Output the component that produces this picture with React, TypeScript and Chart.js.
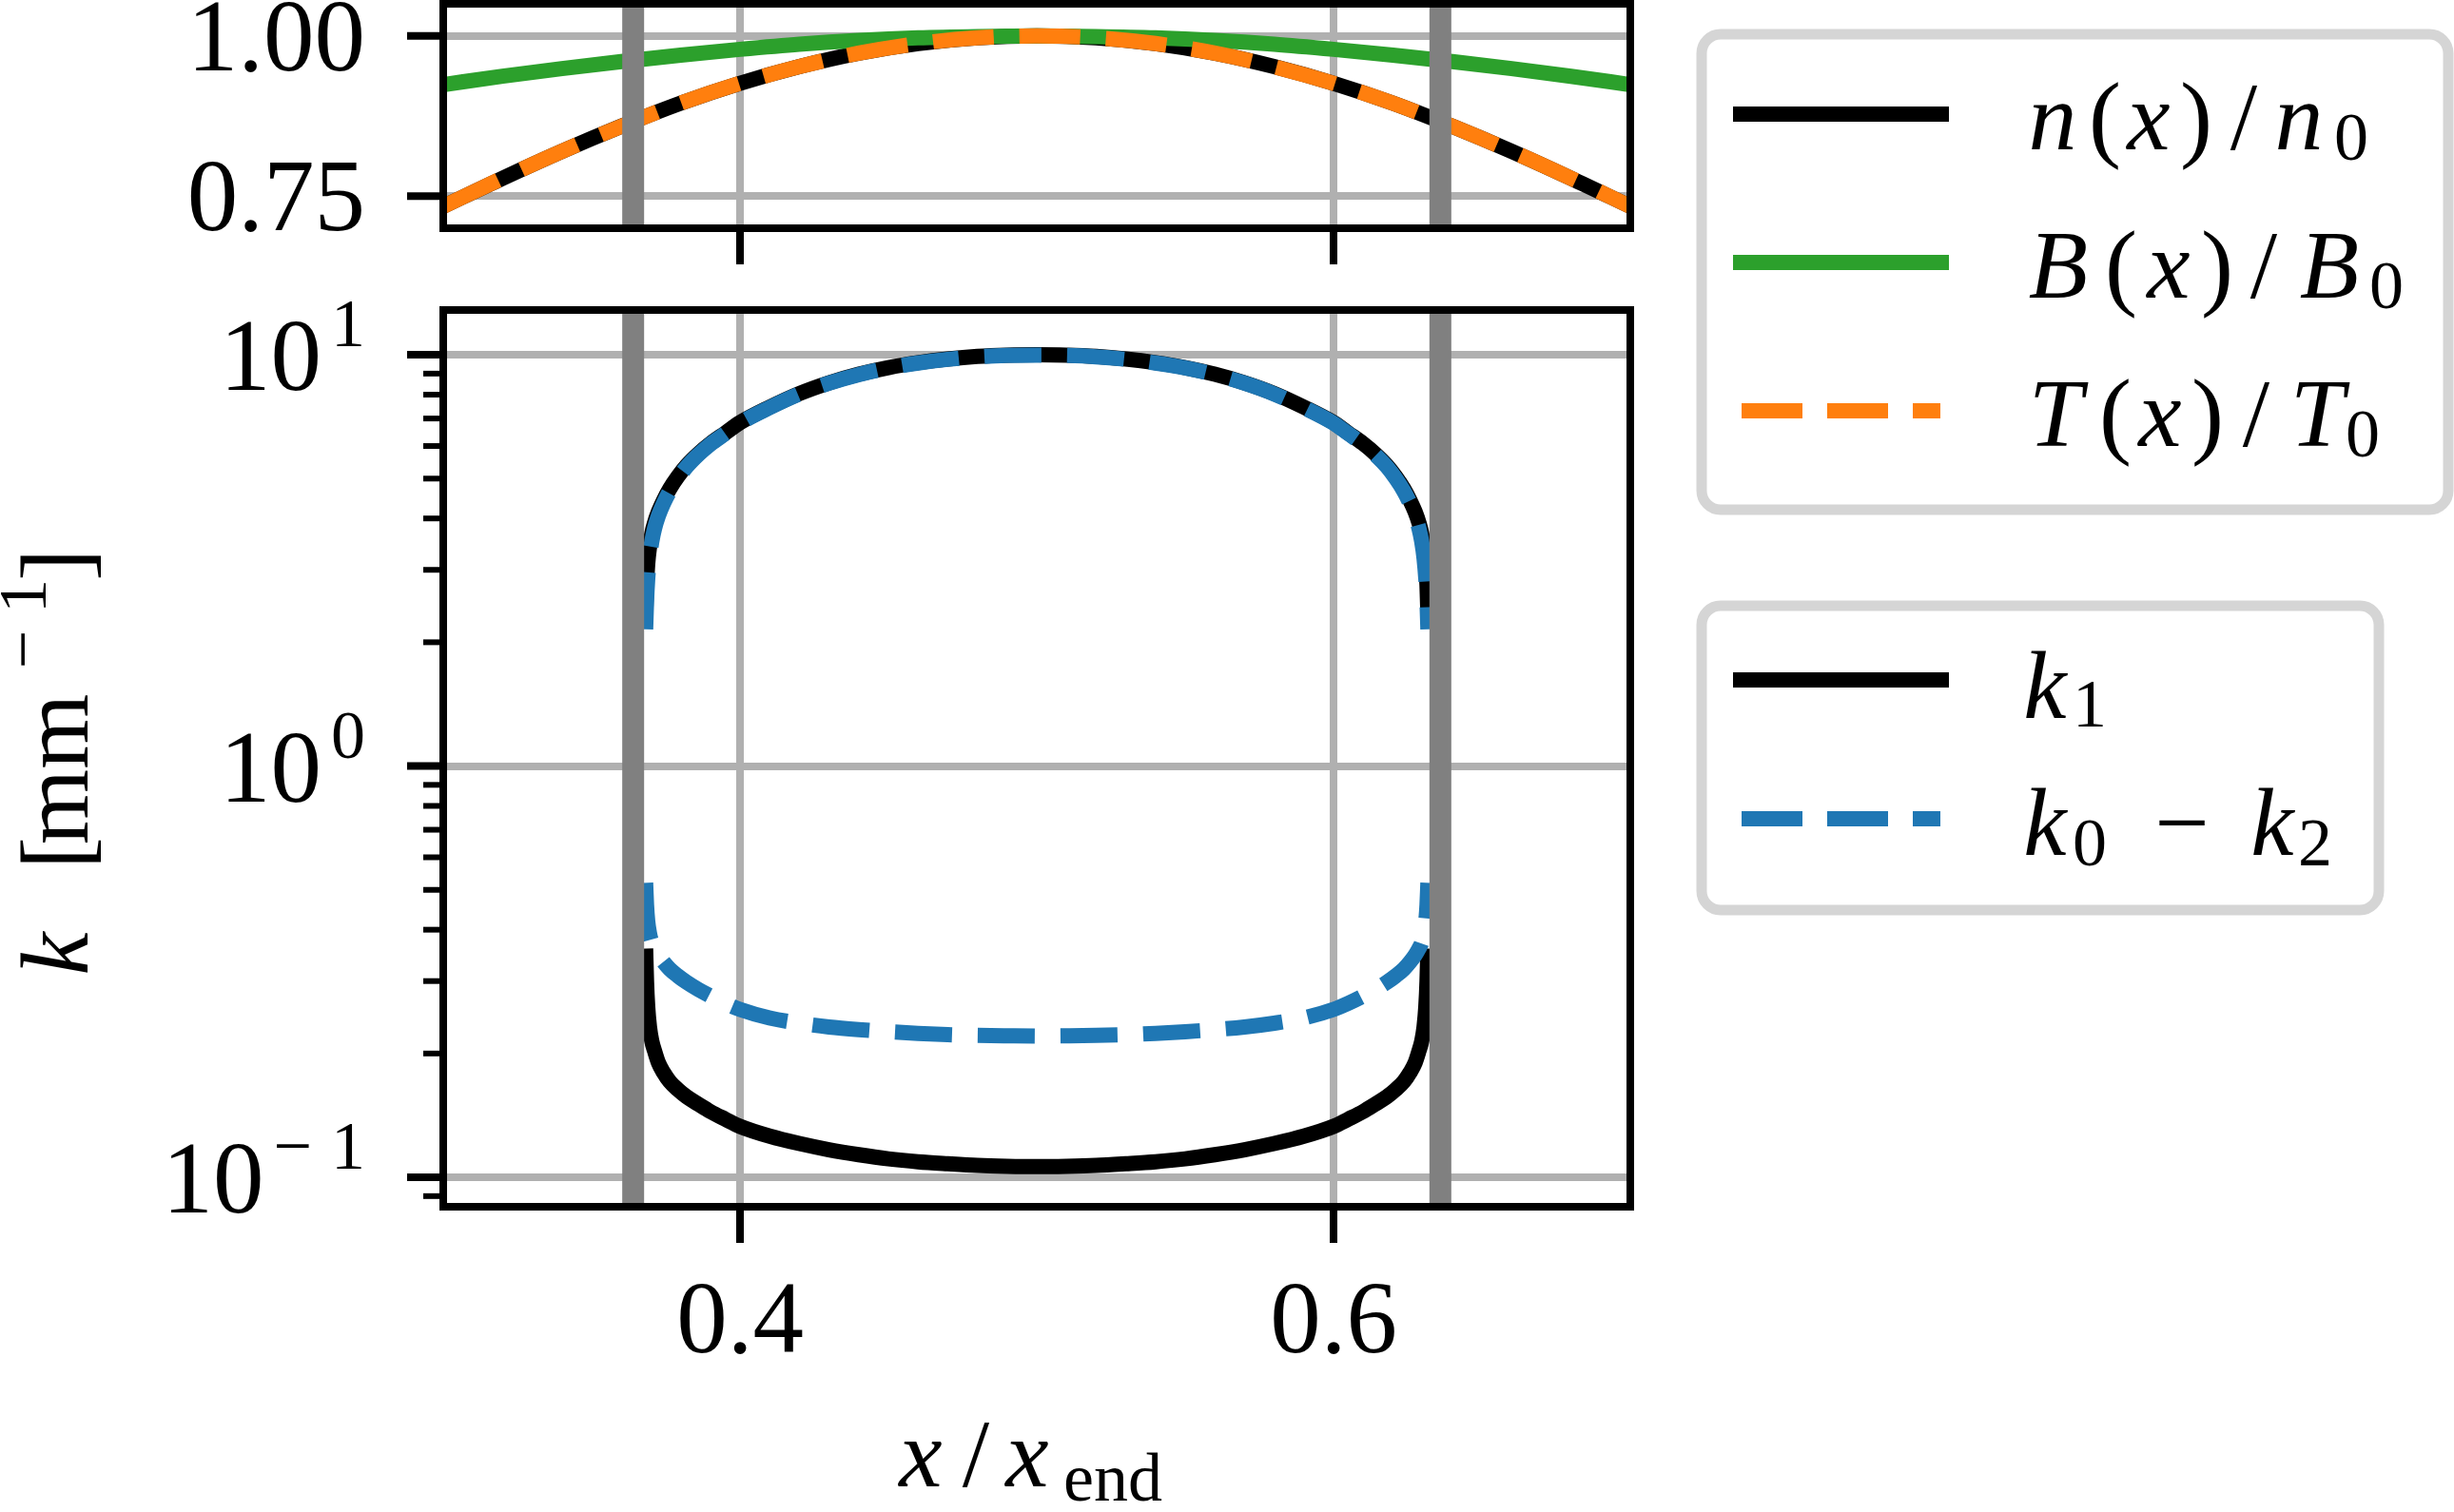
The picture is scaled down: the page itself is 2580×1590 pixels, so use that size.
import { useEffect, useRef } from "react";
import Chart from "chart.js/auto";
import type { Plugin, Scale } from "chart.js";

// top panel: normalised profiles
const X_TOP = [0.3, 0.32, 0.34, 0.36, 0.38, 0.4, 0.42, 0.44, 0.46, 0.48, 0.5, 0.52, 0.54, 0.56, 0.58, 0.6, 0.62, 0.64, 0.66, 0.68, 0.7];
const N_RATIO = [0.734, 0.778, 0.82, 0.859, 0.895, 0.926, 0.952, 0.973, 0.988, 0.997, 1.0, 0.997, 0.988, 0.973, 0.952, 0.926, 0.895, 0.859, 0.82, 0.778, 0.734];
const B_RATIO = [0.924, 0.937, 0.949, 0.96, 0.97, 0.979, 0.987, 0.993, 0.997, 0.999, 1.0, 0.999, 0.997, 0.993, 0.987, 0.979, 0.97, 0.96, 0.949, 0.937, 0.924];
const T_RATIO = [0.734, 0.778, 0.82, 0.859, 0.895, 0.926, 0.952, 0.973, 0.988, 0.997, 1.0, 0.997, 0.988, 0.973, 0.952, 0.926, 0.895, 0.859, 0.82, 0.778, 0.734];

// bottom panel: wavenumbers in mm^-1, upper and lower branch of each
const X_K = [
  0.3682, 0.3685, 0.3689, 0.3695, 0.3703, 0.3712, 0.3725, 0.3742, 0.3763, 0.379, 0.382, 0.386, 0.39, 0.395,
  0.4, 0.41, 0.42, 0.43, 0.44, 0.45, 0.46, 0.47, 0.48, 0.49, 0.5, 0.51, 0.52, 0.53, 0.54, 0.55, 0.56, 0.57, 0.58, 0.59,
  0.6, 0.605, 0.61, 0.614, 0.618, 0.621, 0.6237, 0.6258, 0.6275, 0.6288, 0.6297, 0.6305, 0.6311, 0.6315, 0.6318,
];
const K1_UPPER = [
  2.33, 2.75, 3.1, 3.4, 3.68, 3.9, 4.15, 4.42, 4.72, 5.05, 5.38, 5.75, 6.08, 6.45,
  6.84, 7.46, 8.05, 8.55, 8.97, 9.31, 9.57, 9.77, 9.91, 9.98, 10.0, 9.98, 9.91, 9.77, 9.57, 9.31, 8.97, 8.55, 8.05, 7.46,
  6.84, 6.45, 6.08, 5.75, 5.38, 5.05, 4.72, 4.42, 4.15, 3.9, 3.68, 3.4, 3.1, 2.75, 2.33,
];
const K1_LOWER = [
  0.36, 0.3, 0.26, 0.232, 0.214, 0.203, 0.19, 0.18, 0.171, 0.1635, 0.157, 0.1505, 0.1445, 0.1385,
  0.133, 0.1259, 0.1208, 0.1167, 0.1135, 0.1109, 0.1091, 0.1079, 0.1069, 0.1064, 0.1062, 0.1064, 0.1069, 0.1079, 0.1091, 0.1109, 0.1135, 0.1167, 0.1208, 0.1259,
  0.133, 0.1385, 0.1445, 0.1505, 0.157, 0.1635, 0.171, 0.18, 0.19, 0.203, 0.214, 0.232, 0.26, 0.3, 0.36,
];
const K02_UPPER = [
  2.15, 2.5, 2.85, 3.2, 3.52, 3.78, 4.06, 4.35, 4.66, 5.0, 5.34, 5.72, 6.06, 6.43,
  6.82, 7.44, 8.03, 8.53, 8.95, 9.29, 9.55, 9.75, 9.89, 9.96, 9.98, 9.96, 9.89, 9.75, 9.55, 9.29, 8.95, 8.53, 8.03, 7.44,
  6.82, 6.43, 6.06, 5.72, 5.34, 5.0, 4.66, 4.35, 4.06, 3.78, 3.52, 3.2, 2.85, 2.5, 2.15,
];
const K02_LOWER = [
  0.52, 0.46, 0.42, 0.392, 0.372, 0.36, 0.347, 0.334, 0.321, 0.309, 0.298, 0.286, 0.276, 0.265,
  0.256, 0.244, 0.237, 0.232, 0.2286, 0.226, 0.2239, 0.2223, 0.2213, 0.2208, 0.2205, 0.2208, 0.2213, 0.2223, 0.2239, 0.226, 0.2286, 0.232, 0.237, 0.244,
  0.256, 0.265, 0.276, 0.286, 0.298, 0.309, 0.321, 0.334, 0.347, 0.36, 0.372, 0.392, 0.42, 0.46, 0.52,
];

// region boundaries (vertical grey lines)
const EDGE_X = [0.364, 0.636];

const X_TICKS = [0.4, 0.6];
const X_TICK_LABELS = ["0.4", "0.6"];
const TOP_Y_TICKS = [0.75, 1.0];
const TOP_Y_TICK_LABELS = ["0.75", "1.00"];
const K_MAJOR = [0.1, 1, 10];
const K_MAJOR_EXP = ["−1", "0", "1"];
const K_MINOR = [0.09, 0.2, 0.3, 0.4, 0.5, 0.6, 0.7, 0.8, 0.9, 2, 3, 4, 5, 6, 7, 8, 9];

const SERIF = "'Liberation Serif', 'DejaVu Serif', serif";
const BLACK = "#000000";
const GREEN = "#2ca02c";
const ORANGE = "#ff7f0e";
const BLUE = "#1f77b4";
const GRID = "#b0b0b0";
const EDGE_GRAY = "#808080";
const LEGEND_EDGE = "#d5d5d5";

const pts = (xs: number[], ys: number[]) => xs.map((x, i) => ({ x, y: ys[i] }));

const lineStyle = {
  borderWidth: 16,
  pointRadius: 0,
  fill: false,
  cubicInterpolationMode: "monotone" as const,
  borderCapStyle: "butt" as const,
  borderJoinStyle: "round" as const,
  clip: 0,
};

const fixedTicks = (values: number[]) => (axis: Scale) => {
  axis.ticks = values.map((value) => ({ value }));
};

type AxisDecor = {
  xLabels?: string[];
  yTicks: number[];
  yLabels?: string[];
  yExps?: string[];
  yMinor?: number[];
};

function mplAxes(d: AxisDecor): Plugin<"line"> {
  return {
    id: "mplAxes",
    afterDatasetsDraw(chart) {
      const { ctx, chartArea: a } = chart;
      const xs = chart.scales.x;
      ctx.save();
      ctx.fillStyle = EDGE_GRAY;
      for (const v of EDGE_X) {
        const px = xs.getPixelForValue(v);
        ctx.fillRect(px - 11.5, a.top, 23, a.bottom - a.top);
      }
      ctx.restore();
    },
    afterDraw(chart) {
      const { ctx, chartArea: a } = chart;
      const xs = chart.scales.x;
      const ys = chart.scales.y;
      ctx.save();
      ctx.strokeStyle = BLACK;
      ctx.lineCap = "butt";
      const seg = (x1: number, y1: number, x2: number, y2: number, w: number) => {
        ctx.lineWidth = w;
        ctx.beginPath();
        ctx.moveTo(x1, y1);
        ctx.lineTo(x2, y2);
        ctx.stroke();
      };
      d.yTicks.forEach((v) => {
        const py = ys.getPixelForValue(v);
        seg(a.left - 38, py, a.left, py, 8);
      });
      (d.yMinor ?? []).forEach((v) => {
        const py = ys.getPixelForValue(v);
        seg(a.left - 21, py, a.left, py, 6);
      });
      X_TICKS.forEach((v) => {
        const px = xs.getPixelForValue(v);
        seg(px, a.bottom, px, a.bottom + 38, 8);
      });
      ctx.lineWidth = 8;
      ctx.strokeRect(a.left, a.top, a.right - a.left, a.bottom - a.top);

      ctx.fillStyle = BLACK;
      ctx.textBaseline = "alphabetic";
      ctx.textAlign = "right";
      const right = a.left - 82;
      d.yTicks.forEach((v, i) => {
        const py = ys.getPixelForValue(v);
        if (d.yExps) {
          ctx.font = `72px ${SERIF}`;
          const chars = Array.from(d.yExps[i]).reverse();
          let xr = right;
          chars.forEach((c, j) => {
            ctx.fillText(c, xr, py - 9);
            xr -= ctx.measureText(c).width + (j < chars.length - 1 ? 20 : 0);
          });
          ctx.font = `107px ${SERIF}`;
          ctx.fillText("10", xr - 10, py + 37);
        } else if (d.yLabels) {
          ctx.font = `107px ${SERIF}`;
          ctx.fillText(d.yLabels[i], right, py + 36);
        }
      });
      if (d.xLabels) {
        ctx.font = `107px ${SERIF}`;
        ctx.textAlign = "center";
        X_TICKS.forEach((v, i) => {
          ctx.fillText(d.xLabels![i], xs.getPixelForValue(v), a.bottom + 153);
        });
      }
      ctx.restore();
    },
  };
}

const xAxis = (height: number) => ({
  type: "linear" as const,
  min: 0.3,
  max: 0.7,
  bounds: "data" as const,
  afterBuildTicks: fixedTicks(X_TICKS),
  afterFit: (s: Scale) => {
    s.height = height;
  },
  ticks: { display: false },
  grid: { color: GRID, lineWidth: 8, drawTicks: false },
  border: { display: false },
});

// one glyph group of a math label: text, centre position, italic, baseline shift (small when set)
type Part = { t: string; c: number; it?: boolean; sh?: number };

function MathText({ y, parts }: { y: number; parts: Part[] }) {
  let cur = 0;
  return (
    <text y={y} textAnchor="middle" style={{ whiteSpace: "pre" }}>
      {parts.map((p, i) => {
        const target = p.sh ?? 0;
        const dy = target - cur;
        cur = target;
        return (
          <tspan key={i} x={p.c} dy={dy} fontStyle={p.it ? "italic" : "normal"} fontSize={p.sh !== undefined ? 72 : 102}>
            {p.t}
          </tspan>
        );
      })}
    </text>
  );
}

const ratioParts = (s: string, cs: number[]): Part[] => [
  { t: s, c: cs[0], it: true },
  { t: "(", c: cs[1] },
  { t: "x", c: cs[2], it: true },
  { t: ")", c: cs[3] },
  { t: "/", c: cs[4] },
  { t: s, c: cs[5], it: true },
  { t: "0", c: cs[6], sh: 11 },
];

const LEGEND_ROWS = [
  { y: 120, color: BLACK, dashed: false, base: 157, parts: ratioParts("n", [2158, 2213, 2259, 2309, 2359, 2417, 2472]) },
  { y: 276, color: GREEN, dashed: false, base: 313, parts: ratioParts("B", [2164, 2230, 2280, 2331, 2380, 2449, 2509]) },
  { y: 432, color: ORANGE, dashed: true, base: 469, parts: ratioParts("T", [2161, 2224, 2271, 2321, 2372, 2436, 2484]) },
  {
    y: 715,
    color: BLACK,
    dashed: false,
    base: 755,
    parts: [
      { t: "k", c: 2150, it: true },
      { t: "1", c: 2197, sh: 9 },
    ],
  },
  {
    y: 861,
    color: BLUE,
    dashed: true,
    base: 899,
    parts: [
      { t: "k", c: 2150, it: true },
      { t: "0", c: 2197, sh: 11 },
      { t: "−", c: 2294 },
      { t: "k", c: 2389, it: true },
      { t: "2", c: 2434, sh: 11 },
    ],
  },
];

export default function App() {
  const topRef = useRef<HTMLCanvasElement | null>(null);
  const bottomRef = useRef<HTMLCanvasElement | null>(null);

  useEffect(() => {
    document.body.style.margin = "0";
    if (!topRef.current || !bottomRef.current) return;

    const top = new Chart(topRef.current, {
      type: "line",
      data: {
        datasets: [
          { ...lineStyle, label: "T(x)/T0", data: pts(X_TOP, T_RATIO), borderColor: ORANGE, borderDash: [64, 27], order: 0 },
          { ...lineStyle, label: "B(x)/B0", data: pts(X_TOP, B_RATIO), borderColor: GREEN, order: 1 },
          { ...lineStyle, label: "n(x)/n0", data: pts(X_TOP, N_RATIO), borderColor: BLACK, order: 2 },
        ],
      },
      options: {
        animation: false,
        responsive: true,
        maintainAspectRatio: false,
        layout: { padding: { top: 4, right: 46, left: 0, bottom: 0 } },
        plugins: { legend: { display: false }, tooltip: { enabled: false } },
        events: [],
        scales: {
          x: xAxis(60),
          y: {
            type: "linear",
            min: 0.7,
            max: 1.05,
            bounds: "data",
            afterBuildTicks: fixedTicks(TOP_Y_TICKS),
            afterFit: (s: Scale) => {
              s.width = 466;
            },
            ticks: { display: false },
            grid: { color: GRID, lineWidth: 8, drawTicks: false },
            border: { display: false },
          },
        },
      },
      plugins: [mplAxes({ yTicks: TOP_Y_TICKS, yLabels: TOP_Y_TICK_LABELS })],
    });

    const bottom = new Chart(bottomRef.current, {
      type: "line",
      data: {
        datasets: [
          { ...lineStyle, label: "k0 - k2", data: pts(X_K, K02_UPPER), borderColor: BLUE, borderDash: [60, 27], order: 0 },
          { ...lineStyle, label: "k0 - k2 (lower)", data: pts(X_K, K02_LOWER), borderColor: BLUE, borderDash: [60, 27], order: 0 },
          { ...lineStyle, label: "k1", data: pts(X_K, K1_UPPER), borderColor: BLACK, order: 1 },
          { ...lineStyle, label: "k1 (lower)", data: pts(X_K, K1_LOWER), borderColor: BLACK, order: 1 },
        ],
      },
      options: {
        animation: false,
        responsive: true,
        maintainAspectRatio: false,
        layout: { padding: { top: 26, right: 46, left: 0, bottom: 0 } },
        plugins: { legend: { display: false }, tooltip: { enabled: false } },
        events: [],
        scales: {
          x: xAxis(321),
          y: {
            type: "logarithmic",
            min: 0.0848,
            max: 12.85,
            bounds: "data",
            afterBuildTicks: fixedTicks(K_MAJOR),
            afterFit: (s: Scale) => {
              s.width = 466;
            },
            ticks: { display: false },
            grid: { color: GRID, lineWidth: 8, drawTicks: false },
            border: { display: false },
          },
        },
      },
      plugins: [mplAxes({ yTicks: K_MAJOR, yExps: K_MAJOR_EXP, yMinor: K_MINOR, xLabels: X_TICK_LABELS })],
    });

    return () => {
      top.destroy();
      bottom.destroy();
    };
  }, []);

  return (
    <div style={{ position: "relative", width: 2580, height: 1590, background: "#fff", overflow: "hidden" }}>
      <div style={{ position: "absolute", left: 0, top: 0, width: 1760, height: 300 }}>
        <canvas ref={topRef} />
      </div>
      <div style={{ position: "absolute", left: 0, top: 300, width: 1760, height: 1290 }}>
        <canvas ref={bottomRef} />
      </div>
      <svg
        width={2580}
        height={1590}
        style={{ position: "absolute", left: 0, top: 0, pointerEvents: "none" }}
        fontFamily={SERIF}
        fontSize={102}
        fill={BLACK}
      >
        <rect x={1789} y={36} width={785} height={500} rx={20} fill="#fff" stroke={LEGEND_EDGE} strokeWidth={11} />
        <rect x={1789} y={637} width={712} height={320} rx={20} fill="#fff" stroke={LEGEND_EDGE} strokeWidth={11} />
        {LEGEND_ROWS.map((r, i) => (
          <g key={i}>
            <line
              x1={r.dashed ? 1831 : 1822}
              x2={r.dashed ? 2040 : 2049}
              y1={r.y}
              y2={r.y}
              stroke={r.color}
              strokeWidth={16}
              strokeDasharray={r.dashed ? "64 26" : undefined}
            />
            <MathText y={r.base} parts={r.parts} />
          </g>
        ))}
        <MathText
          y={1563}
          parts={[
            { t: "x", c: 968, it: true },
            { t: "/", c: 1026 },
            { t: "x", c: 1080, it: true },
            { t: "end", c: 1170, sh: 15 },
          ]}
        />
        <g transform="translate(92 1025) rotate(-90)">
          <MathText
            y={0}
            parts={[
              { t: "k", c: 22, it: true },
              { t: "[", c: 128 },
              { t: "mm", c: 216 },
              { t: "−", c: 342, sh: -44 },
              { t: "1", c: 398, sh: -44 },
              { t: "]", c: 431 },
            ]}
          />
        </g>
      </svg>
    </div>
  );
}
